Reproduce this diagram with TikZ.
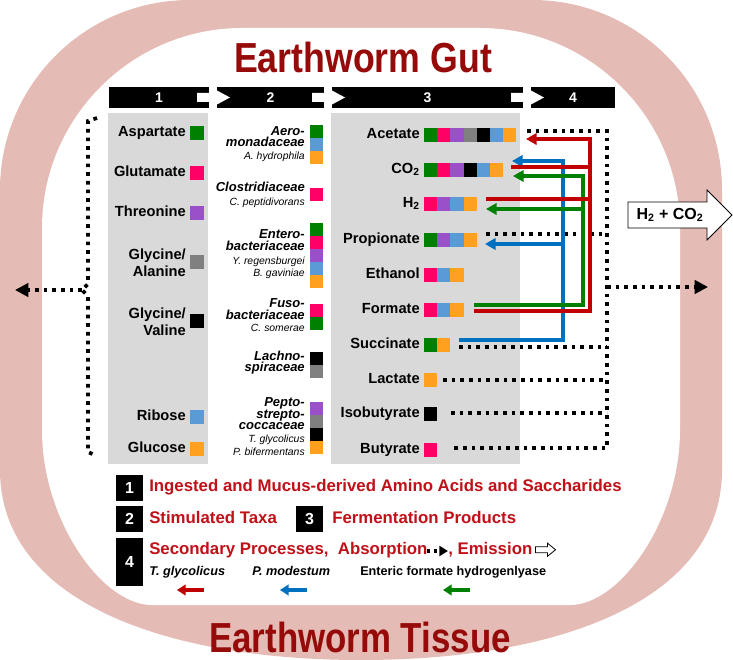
\documentclass[tikz,border=0pt]{standalone}
\usepackage{graphicx}
\usepackage{fontspec}
\setmainfont{Liberation Sans}
\usetikzlibrary{arrows.meta}
\definecolor{ringc}{RGB}{228,188,181}
\definecolor{colgray}{RGB}{217,217,217}
\definecolor{titlered}{RGB}{150,10,10}
\definecolor{legred}{RGB}{192,16,24}
\definecolor{sqG}{RGB}{0,128,0}
\definecolor{sqP}{RGB}{255,0,102}
\definecolor{sqU}{RGB}{153,80,200}
\definecolor{sqA}{RGB}{128,128,128}
\definecolor{sqK}{RGB}{0,0,0}
\definecolor{sqB}{RGB}{91,155,213}
\definecolor{sqO}{RGB}{255,160,30}
\definecolor{arR}{RGB}{192,0,0}
\definecolor{arB}{RGB}{0,112,192}
\definecolor{arG}{RGB}{0,128,0}
\newcommand\sqrow[3]{\foreach \c [count=\i from 0] in {#3} {\fill[\c] ({#1+\i*13.2},{#2-6.6}) rectangle ++(13.2,13.2);}}
\newcommand\sqcol[3]{\foreach \c [count=\i from 0] in {#3} {\fill[\c] (#1,{#2+\i*13}) rectangle ++(13,13);}}
\begin{document}
\begin{tikzpicture}[x=0.75pt,y=-0.75pt,
  lab1/.style={font=\fontsize{11}{12.75}\selectfont\bfseries, anchor=mid east, align=right, inner sep=0},
  lab2/.style={font=\fontsize{11}{12.75}\selectfont\bfseries, anchor=east, align=right, inner sep=0},
  fam/.style={font=\fontsize{9.75}{11}\selectfont\bfseries\itshape, anchor=mid east, inner sep=0},
  spc/.style={font=\fontsize{7.8}{9}\selectfont\itshape, anchor=mid east, inner sep=0},
  hdr/.style={fill=black, text=white, font=\fontsize{10.5}{12}\selectfont\bfseries, minimum height=15.75pt, inner sep=0},
  numbox/.style={fill=black, text=white, font=\fontsize{12}{14}\selectfont\bfseries, minimum width=20.25pt, inner sep=0},
  leg/.style={font=\fontsize{12.6}{14}\selectfont\bfseries, text=legred, anchor=mid west, inner sep=0},
  legs/.style={font=\fontsize{9.5}{11}\selectfont\bfseries, anchor=mid west, inner sep=0},
  dots/.style={line width=2.8pt, dash pattern=on 2.8pt off 3.7pt, black},
  dtip/.style={-{Triangle[length=10pt,width=10pt]}},
  cline/.style={line width=3pt, line join=miter},
  ctip/.style={-{Triangle[length=8pt,width=8.5pt]}},
  ltip/.style={line width=2.6pt, -{Triangle[length=6.5pt,width=8pt]}}]
\useasboundingbox (0,0) rectangle (733,660);
% ring
\fill[ringc] (0,190) .. controls (0,85) and (85,0) .. (190,0) -- (532,0)
  .. controls (637,0) and (722,85) .. (722,190) -- (722,470)
  .. controls (722,600) and (560,660) .. (361,660)
  .. controls (162,660) and (0,600) .. (0,470) -- cycle;
\fill[white] (42,228) .. controls (42,118) and (132,28) .. (242,28) -- (480,28)
  .. controls (590,28) and (680,118) .. (680,228) -- (680,430)
  .. controls (680,520) and (620,605) .. (570,605) -- (152,605)
  .. controls (102,605) and (42,520) .. (42,430) -- cycle;
% columns
\fill[colgray] (108,113) rectangle (208,464);
\fill[colgray] (331,113) rectangle (520,464);
% titles
\node[text=titlered, inner sep=0] (gut) at (363,57) {\scalebox{0.85}[1]{\fontsize{31.5}{31}\selectfont\bfseries Earthworm Gut}};
\node[text=titlered, inner sep=0] (tissue) at (360,637) {\scalebox{0.83}[1]{\fontsize{31.5}{31}\selectfont\bfseries Earthworm Tissue}};
% header
\node[hdr, minimum width=75pt] (h1) at (159,97.5) {1};
\node[hdr, minimum width=80.25pt] (h2) at (270.5,97.5) {2};
\node[hdr, minimum width=143.25pt] (h3) at (427.5,97.5) {3};
\node[hdr, minimum width=63pt] (h4) at (573,97.5) {4};
\foreach \r/\s in {209/217, 324/332, 523/531} {
  \fill[white] (\r-12,93) -- (\s,93) -- (\s,90.5) -- (\s+13,97.5) -- (\s,104.5) -- (\s,102) -- (\r-12,102) -- cycle;
}
% column 1
\node[lab1] (asp) at (186,133) {Aspartate};
\node[lab1] (glu) at (186,173) {Glutamate};
\node[lab1] (thr) at (186,213) {Threonine};
\node[lab2] (gla) at (186,263) {Glycine/\\Alanine};
\node[lab2] (glv) at (186,322) {Glycine/\\Valine};
\node[lab1] (rib) at (186,417) {Ribose};
\node[lab1] (glc) at (186,449) {Glucose};
\fill[sqG] (190,126) rectangle (204,140);
\fill[sqP] (190,166) rectangle (204,180);
\fill[sqU] (190,206) rectangle (204,220);
\fill[sqA] (190,255) rectangle (204,269);
\fill[sqK] (190,314) rectangle (204,328);
\fill[sqB] (190,410) rectangle (204,424);
\fill[sqO] (190,442) rectangle (204,456);
% column 2
\node[fam] (aero1) at (305,132) {Aero-};
\node[fam] (aero2) at (305,143) {monadaceae};
\node[spc] (aero3) at (305,156) {A. hydrophila};
\sqcol{310}{125}{sqG,sqB,sqO}
\node[fam] (clos1) at (305,188) {Clostridiaceae};
\node[spc] (clos2) at (305,202) {C. peptidivorans};
\sqcol{310}{188}{sqP}
\node[fam] (ent1) at (305,235) {Entero-};
\node[fam] (ent2) at (305,247) {bacteriaceae};
\node[spc] (ent3) at (305,261) {Y. regensburgei};
\node[spc] (ent4) at (305,273) {B. gaviniae};
\sqcol{310}{223}{sqG,sqP,sqU,sqB,sqO}
\node[fam] (fus1) at (305,304) {Fuso-};
\node[fam] (fus2) at (305,316) {bacteriaceae};
\node[spc] (fus3) at (305,328) {C. somerae};
\sqcol{310}{304}{sqP,sqG}
\node[fam] (lac1) at (305,357) {Lachno-};
\node[fam] (lac2) at (305,368) {spiraceae};
\sqcol{310}{352}{sqK,sqA}
\node[fam] (pep1) at (305,403) {Pepto-};
\node[fam] (pep2) at (305,415) {strepto-};
\node[fam] (pep3) at (305,426) {coccaceae};
\node[spc] (pep4) at (305,439) {T. glycolicus};
\node[spc] (pep5) at (305,452) {P. bifermentans};
\sqcol{310}{402}{sqU,sqA,sqK,sqO}
% column 3
\node[lab1] (ace) at (420,135) {Acetate};
\node[lab1] (co2) at (420,170) {CO\textsubscript{2}};
\node[lab1] (h2) at (420,204) {H\textsubscript{2}};
\node[lab1] (pro) at (420,240) {Propionate};
\node[lab1] (eth) at (420,275) {Ethanol};
\node[lab1] (for) at (420,310) {Formate};
\node[lab1] (suc) at (420,345) {Succinate};
\node[lab1] (lct) at (420,380) {Lactate};
\node[lab1] (iso) at (420,414) {Isobutyrate};
\node[lab1] (but) at (420,450) {Butyrate};
\sqrow{424}{135}{sqG,sqP,sqU,sqA,sqK,sqB,sqO}
\sqrow{424}{170}{sqG,sqP,sqU,sqK,sqB,sqO}
\sqrow{424}{204}{sqP,sqU,sqB,sqO}
\sqrow{424}{240}{sqG,sqU,sqB,sqO}
\sqrow{424}{275}{sqP,sqB,sqO}
\sqrow{424}{310}{sqP,sqB,sqO}
\sqrow{424}{345}{sqG,sqO}
\sqrow{424}{380}{sqO}
\sqrow{424}{414}{sqK}
\sqrow{424}{450}{sqP}
% coordinates for connectors
\coordinate (aceD) at (527,131);
\coordinate (cornT) at (607,131);
\coordinate (cornB) at (607,448);
\coordinate (butD) at (451,448);
\coordinate (proD) at (486,234);
\coordinate (proJ) at (607,234);
\coordinate (sucD) at (459,347);
\coordinate (sucJ) at (607,347);
\coordinate (lctD) at (443,380);
\coordinate (lctJ) at (607,380);
\coordinate (isoD) at (451,413);
\coordinate (isoJ) at (607,413);
\coordinate (outS) at (607,287);
\coordinate (outE) at (708,287);
% dotted absorption lines
\draw[dots] (aceD) -- (cornT) -- (cornB) -- (butD);
\draw[dots] (proD) -- (proJ);
\draw[dots] (sucD) -- (sucJ);
\draw[dots] (lctD) -- (lctJ);
\draw[dots] (isoD) -- (isoJ);
\draw[dots, dtip] (outS) -- (outE);
% left brace
\coordinate (bT) at (97,118);
\coordinate (bB) at (97,456);
\coordinate (bM) at (82,290);
\coordinate (inS) at (15,290);
\draw[dots] (bT) -- (88,121) -- (88,284) -- (bM) -- (88,296) -- (88,452) -- (bB);
\draw[dots, dtip] (bM) -- (inS);
% blue: P. modestum
\coordinate (bS) at (459,340);
\coordinate (bC1) at (563,340);
\coordinate (bC2) at (563,161);
\coordinate (bCO) at (512,161);
\coordinate (bJ) at (563,244);
\coordinate (bPR) at (485,244);
\draw[arB, cline, ctip] (bS) -- (bC1) -- (bC2) -- (bCO);
\draw[arB, cline, ctip] (bJ) -- (bPR);
% green: enteric formate hydrogenlyase
\coordinate (gS) at (474,305);
\coordinate (gC1) at (583,305);
\coordinate (gC2) at (583,176);
\coordinate (gCO) at (513,176);
\coordinate (gJ) at (583,209);
\coordinate (gH) at (486,209);
\draw[arG, cline, ctip] (gS) -- (gC1) -- (gC2) -- (gCO);
\draw[arG, cline, ctip] (gJ) -- (gH);
% red: T. glycolicus
\coordinate (rS) at (474,311);
\coordinate (rC1) at (590,311);
\coordinate (rC2) at (590,139);
\coordinate (rA) at (526,139);
\coordinate (rCO) at (511,167);
\coordinate (rCOJ) at (590,167);
\coordinate (rH) at (486,199);
\coordinate (rHJ) at (590,199);
\draw[arR, cline, ctip] (rS) -- (rC1) -- (rC2) -- (rA);
\draw[arR, cline] (rCO) -- (rCOJ);
\draw[arR, cline] (rH) -- (rHJ);
% emission block arrow
\draw[fill=white, line width=0.6pt] (628,202) -- (707,202) -- (707,190) -- (732,215) -- (707,240) -- (707,228) -- (628,228) -- cycle;
\node[font=\fontsize{12}{13}\selectfont\bfseries, inner sep=0] (emis) at (670,215) {H\textsubscript{2} + CO\textsubscript{2}};
% legend
\node[numbox, minimum height=19.5pt] (l1) at (129.5,487.5) {1};
\node[leg] (l1t) at (149,488) {Ingested and Mucus-derived Amino Acids and Saccharides};
\node[numbox, minimum height=19.5pt] (l2) at (129.5,519) {2};
\node[leg] (l2t) at (149,520) {Stimulated Taxa};
\node[numbox, minimum height=19.5pt] (l3) at (309.5,519) {3};
\node[leg] (l3t) at (332,520) {Fermentation Products};
\node[numbox, minimum height=36pt] (l4) at (129.5,562) {4};
\node[leg] (l4t) at (149,551) {Secondary Processes,\ \ Absorption};
\coordinate (absS) at (427,551);
\coordinate (absE) at (448,551);
\draw[line width=2.6pt, dash pattern=on 2.6pt off 2.6pt, -{Triangle[length=6.5pt,width=7.5pt]}] (absS) -- (absE);
\node[leg] (l4e) at (448,551) {, Emission};
\draw[line width=0.6pt, fill=white] (l4e.east) ++(3,-3) -- ++(12,0) -- ++(0,-3.5) -- ++(8,6.5) -- ++(-8,6.5) -- ++(0,-3.5) -- ++(-12,0) -- cycle;
\node[legs, font=\fontsize{9.5}{11}\selectfont\bfseries\itshape] (tg) at (149,572) {T. glycolicus};
\node[legs, font=\fontsize{9.5}{11}\selectfont\bfseries\itshape] (pm) at (252,572) {P. modestum};
\node[legs] (efh) at (360,572) {Enteric formate hydrogenlyase};
\coordinate (ra1) at (204,590); \coordinate (ra2) at (177,590);
\coordinate (ba1) at (307,590); \coordinate (ba2) at (280,590);
\coordinate (ga1) at (470,590); \coordinate (ga2) at (443,590);
\draw[arR, ltip] (ra1) -- (ra2);
\draw[arB, ltip] (ba1) -- (ba2);
\draw[arG, ltip] (ga1) -- (ga2);
\end{tikzpicture}
\end{document}
